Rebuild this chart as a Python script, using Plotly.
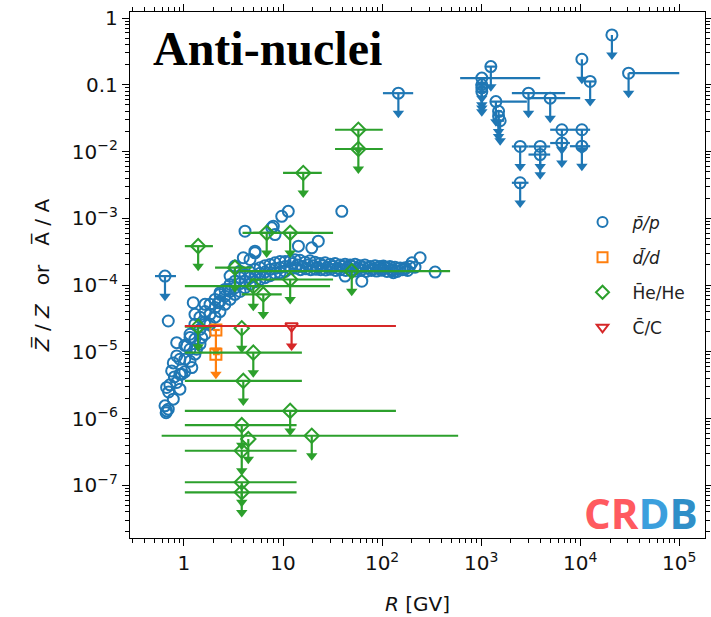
import numpy as np
import plotly.graph_objects as go

# ---------------- data ----------------
# p-bar / p measurements: rigidity [GV], ratio
pbar_R = [0.643, 0.694, 0.668, 0.66, 0.78, 0.668, 0.70, 0.844, 0.72, 0.751, 0.80, 0.948, 1.20, 0.844, 0.78,
          1.065, 1.34, 1.15, 1.51, 1.63, 1.24, 1.63, 1.29, 2.22, 2.31, 2.80, 2.92, 3.68, 4.64, 5.21, 0.694,
          0.844, 4.13, 7.98, 9.70, 11.3, 5.21, 3.97, 3.27, 22.7, 19.5, 14.3, 8.30, 7.69, 39.2, 242, 200, 171,
          130, 62.4, 343, 103, 42.3,
          0.91, 0.91, 0.91, 1.02, 1.02, 1.02, 1.15, 1.15, 1.15, 1.29, 1.29, 1.29, 1.45, 1.45, 1.45,
          1.63, 1.63, 1.63, 1.83, 1.83, 1.83, 2.06, 2.06, 2.06, 2.31, 2.31, 2.31, 2.59, 2.59, 2.59,
          2.92, 2.92, 2.92, 3.27, 3.27, 3.27, 3.68, 3.68, 3.68, 4.13, 4.13, 4.13, 4.64, 4.64, 4.64,
          5.21, 5.21, 5.21, 5.86, 5.86, 5.86, 6.58, 6.58, 6.58, 7.39, 7.39, 7.39, 8.3, 8.3, 8.3,
          9.33, 9.33, 9.33, 10.5, 10.5, 10.5,
          11.8, 12.5, 13.2, 14.0, 14.8, 15.7, 16.7, 17.7, 18.7, 20.0, 21.0, 22.3, 23.6, 25.0, 26.6, 28.0,
          29.8, 31.6, 33.5, 35.5, 37.6, 40.0, 42.3, 45.0, 47.5, 50.0, 53.4, 57.0, 60.0, 64.0, 67.0, 72.0,
          76.0, 81.0, 85.0, 90.0, 95.0, 101, 107, 113, 120, 127, 135, 143, 152, 161, 171, 181, 190, 215,
          12.0, 13.5, 15.0, 17.0, 19.0, 21.5, 24.0, 27.0, 30.0, 34.0, 38.0, 43.0, 48.0, 54.0, 61.0, 69.0,
          78.0, 88.0, 99.0, 112, 126, 142, 160, 180]
pbar_ratio = [1.55e-6, 1.38e-6, 1.30e-6, 1.22e-6, 1.95e-6, 2.92e-6, 2.5e-6, 3.47e-6, 3.2e-6, 5.16e-6, 4.2e-6,
              4.61e-6, 5.8e-6, 8.65e-6, 6.8e-6, 1.22e-5, 1.09e-5, 1.63e-5, 1.63e-5, 2.58e-5, 5.43e-5, 5.13e-5,
              3.64e-5, 5.43e-5, 7.67e-5, 8.6e-5, 1.36e-4, 1.61e-4, 2.41e-4, 3.04e-4, 2.89e-5, 1.37e-5, 6.4e-4,
              7.6e-4, 1.07e-3, 1.27e-3, 3.21e-4, 2.56e-4, 1.92e-4, 4.53e-4, 3.61e-4, 3.82e-4, 5.70e-4, 7.19e-4,
              1.27e-3, 2.56e-4, 2.15e-4, 1.82e-4, 1.53e-4, 1.14e-4, 1.56e-4, 1.92e-4, 1.36e-4,
              7.72e-6, 4.61e-6, 2.75e-6, 1.25e-5, 7.72e-6, 5.0e-6, 1.83e-5, 1.09e-5, 7.2e-6, 2.58e-5, 1.55e-5,
              9.2e-6, 3.3e-5, 2.17e-5, 1.3e-5, 4.0e-5, 2.8e-5, 1.83e-5, 5.13e-5, 3.64e-5, 2.58e-5, 6.09e-5,
              4.6e-5, 3.3e-5, 7.23e-5, 5.7e-5, 4.0e-5, 8.6e-5, 6.8e-5, 5.13e-5, 1.02e-4, 8.0e-5, 6.09e-5,
              1.14e-4, 9.1e-5, 7.23e-5, 1.29e-4, 1.05e-4, 8.0e-5, 1.44e-4, 1.14e-4, 9.1e-5, 1.56e-4, 1.29e-4,
              1.02e-4, 1.71e-4, 1.38e-4, 1.12e-4, 1.82e-4, 1.5e-4, 1.21e-4, 1.95e-4, 1.56e-4, 1.29e-4, 2.03e-4,
              1.71e-4, 1.38e-4, 2.15e-4, 1.77e-4, 1.5e-4, 2.25e-4, 1.82e-4, 1.53e-4, 2.25e-4, 1.9e-4, 1.6e-4,
              2.3e-4, 2.1e-4, 2.4e-4, 2.0e-4, 2.35e-4, 1.9e-4, 2.2e-4, 2.0e-4, 2.3e-4, 1.95e-4, 2.2e-4, 1.85e-4,
              2.1e-4, 1.95e-4, 2.15e-4, 1.85e-4, 2.05e-4, 1.9e-4, 2.1e-4, 1.8e-4, 2.0e-4, 1.9e-4, 2.05e-4,
              1.85e-4, 2.0e-4, 1.9e-4, 2.05e-4, 1.8e-4, 1.95e-4, 1.85e-4, 2.0e-4, 1.8e-4, 1.9e-4, 1.75e-4,
              1.95e-4, 1.8e-4, 1.9e-4, 1.75e-4, 1.85e-4, 1.8e-4, 1.9e-4, 1.7e-4, 1.85e-4, 1.75e-4, 1.8e-4,
              1.7e-4, 1.75e-4, 1.65e-4,
              1.9e-4, 1.85e-4, 1.75e-4, 1.8e-4, 1.7e-4, 1.75e-4, 1.7e-4, 1.72e-4, 1.7e-4, 1.68e-4, 1.72e-4,
              1.65e-4, 1.7e-4, 1.65e-4, 1.68e-4, 1.62e-4, 1.66e-4, 1.6e-4, 1.65e-4, 1.62e-4, 1.66e-4, 1.6e-4,
              1.63e-4, 1.6e-4]

# p-bar / p upper limits: value, rigidity bin edges
pbar_ul_R = [0.643, 146, 2.09e4, 1.04e4, 3.08e4, 1.26e4, 1253, 1016, 1016, 1016, 1016, 1409, 1500, 1500,
             1556, 3006, 4977, 2477, 3945, 6530, 1.04e4, 6530, 1.04e4, 3945, 2477]
pbar_ul_val = [1.36e-4, 0.0748, 0.557, 0.241, 0.149, 0.112, 0.187, 0.126, 0.100, 0.090, 0.079, 0.056,
               0.040, 0.0337, 0.0289, 0.0748, 0.063, 0.0119, 0.0119, 0.0212, 0.0212, 0.0134, 0.0120,
               0.0090, 0.0034]
pbar_ul_Rlo = [0.51, 102, 2.09e4, 1.04e4, 3.08e4, 1.1e4, 1120, 614, 880, 900, 900, 1253, 1420, 1420,
               1440, 2043, 3006, 2043, 3006, 4977, 7870, 4977, 7870, 3006, 2043]
pbar_ul_Rhi = [0.83, 206, 2.09e4, 1.04e4, 1.0e5, 1.45e4, 1410, 3945, 1160, 1140, 1140, 2896, 1620, 1620,
               1700, 7050, 1.0e4, 3006, 4977, 7870, 1.26e4, 7870, 1.26e4, 4977, 3006]

# d-bar / d upper limits
dbar_ul_R = [2.1, 2.1]
dbar_ul_val = [2.12e-5, 9.2e-6]
dbar_ul_Rlo = [1.96, 1.96]
dbar_ul_Rhi = [2.3, 2.3]

# He-bar / He upper limits
he_ul_R = [1.39, 6.84, 11.8, 3.27, 5.01, 6.32, 11.8, 49.4, 1.39, 3.83, 5.01, 3.97, 11.8, 3.83, 19.5,
           4.46, 3.83, 3.83, 3.83, 57.6, 57.6, 16.0]
he_ul_val = [3.82e-4, 6.05e-4, 6.05e-4, 1.82e-4, 9.6e-5, 7.23e-5, 1.21e-4, 1.61e-4, 2.38e-5, 2.25e-5,
             9.7e-6, 3.66e-6, 1.30e-6, 7.96e-7, 5.52e-7, 4.92e-7, 3.29e-7, 1.11e-7, 7.85e-8, 0.0212,
             0.0109, 4.77e-3]
he_ul_Rlo = [1.02, 3.9, 5.0, 2.06, 1.02, 3.83, 4.64, 3.68, 1.02, 3.83, 1.02, 1.02, 1.02, 1.02, 0.595,
             4.46, 1.02, 1.02, 1.02, 33.5, 33.5, 10.0]
he_ul_Rhi = [1.96, 20.0, 32.0, 4.83, 29.8, 9.7, 32.0, 486, 2.06, 3.83, 15.5, 15.5, 138, 13.7, 586,
             4.46, 13.7, 13.7, 13.7, 101.6, 101.6, 24.6]

# C-bar / C upper limit
cbar_ul_R = [12.2]
cbar_ul_val = [2.43e-5]
cbar_ul_Rlo = [1.02]
cbar_ul_Rhi = [138]

x_ticks = [1, 10, 1e2, 1e3, 1e4, 1e5]
x_ticktext = ["1", "10", "10<sup>2</sup>", "10<sup>3</sup>", "10<sup>4</sup>", "10<sup>5</sup>"]
y_ticks = [1e-7, 1e-6, 1e-5, 1e-4, 1e-3, 1e-2, 0.1, 1]
y_ticktext = ["10<sup>\u22127</sup>", "10<sup>\u22126</sup>", "10<sup>\u22125</sup>", "10<sup>\u22124</sup>",
              "10<sup>\u22123</sup>", "10<sup>\u22122</sup>", "0.1", "1"]

C_P, C_D, C_HE, C_C = "#1f77b4", "#ff7f0e", "#2ca02c", "#d62728"
ARROW = 0.5  # arrow tip factor for upper limits

fig = go.Figure()


def add_ul(R, val, Rlo, Rhi, color, symbol):
    R = np.array(R, float)
    v = np.array(val, float)
    ep = np.array(Rhi, float) - R
    em = R - np.array(Rlo, float)
    fig.add_trace(go.Scatter(
        x=R, y=v, mode="markers",
        marker=dict(symbol=symbol + "-open", size=11, color=color, line=dict(width=2, color=color)),
        error_x=dict(type="data", symmetric=False, array=ep, arrayminus=em, color=color,
                     thickness=2.2, width=0),
        error_y=dict(type="data", symmetric=False, array=np.zeros_like(v), arrayminus=v * (1 - ARROW),
                     color=color, thickness=2.2, width=0),
        showlegend=False, hoverinfo="skip"))
    fig.add_trace(go.Scatter(
        x=R, y=v * ARROW, mode="markers",
        marker=dict(symbol="triangle-down", size=10, color=color, line=dict(width=0)),
        showlegend=False, hoverinfo="skip"))


# p-bar/p measurements
fig.add_trace(go.Scatter(
    x=pbar_R, y=pbar_ratio, mode="markers",
    marker=dict(symbol="circle-open", size=11, color=C_P, line=dict(width=2, color=C_P)),
    showlegend=False, hoverinfo="skip"))
add_ul(pbar_ul_R, pbar_ul_val, pbar_ul_Rlo, pbar_ul_Rhi, C_P, "circle")
add_ul(dbar_ul_R, dbar_ul_val, dbar_ul_Rlo, dbar_ul_Rhi, C_D, "square")
add_ul(he_ul_R, he_ul_val, he_ul_Rlo, he_ul_Rhi, C_HE, "diamond")
add_ul(cbar_ul_R, cbar_ul_val, cbar_ul_Rlo, cbar_ul_Rhi, C_C, "triangle-down")

# legend entries
leg = [("<i>p\u0304/p</i>", C_P, "circle-open"),
       ("<i>d\u0304/d</i>", C_D, "square-open"),
       ("H\u0304e/He", C_HE, "diamond-open"),
       ("C\u0304/C", C_C, "triangle-down-open")]
for i, (name, col, sym) in enumerate(leg):
    fig.add_trace(go.Scatter(
        x=[None], y=[None], mode="markers", name=name, legendgroup=f"g{i}",
        marker=dict(symbol=sym, size=10, color=col, line=dict(width=2, color=col))))

minor_x = [m * 10 ** e for e in range(-1, 6) for m in range(2, 10)]
minor_y = [m * 10 ** e for e in range(-8, 1) for m in range(2, 10)]

axis_common = dict(showgrid=False, zeroline=False, showline=True, linecolor="black", linewidth=1.3,
                   ticks="outside", ticklen=7, tickwidth=1.3, tickcolor="black", mirror="ticks",
                   automargin=False,
                   tickfont=dict(family="DejaVu Sans", size=20, color="#111"))

fig.update_xaxes(type="log", range=[-0.545, 5.26], tickvals=x_ticks, ticktext=x_ticktext,
                 minor=dict(tickvals=minor_x, ticks="outside", ticklen=4, tickwidth=1, tickcolor="black"),
                 title=dict(text="<i>R</i> [GV]", font=dict(family="DejaVu Sans", size=20, color="#111"),
                            standoff=22),
                 **axis_common)
fig.update_yaxes(type="log", range=[-7.79, 0.09], tickvals=y_ticks, ticktext=y_ticktext,
                 minor=dict(tickvals=minor_y, ticks="outside", ticklen=4, tickwidth=1, tickcolor="black"),
                 title=dict(text="<i>Z\u0305</i> / <i>Z</i>   or   A\u0305 / A",
                            font=dict(family="DejaVu Sans", size=20, color="#111"), standoff=16),
                 **axis_common)

fig.add_annotation(text="<b>Anti-nuclei</b>", xref="paper", yref="paper", x=0.036, y=0.93,
                   xanchor="left", yanchor="middle", showarrow=False,
                   font=dict(family="Liberation Serif", size=48, color="black"))
fig.add_annotation(
    text="<b><span style='color:#ff5a5f'>CR</span><span style='color:#3b9fdd'>D</span>"
         "<span style='color:#2f8fc8'>B</span></b>",
    xref="paper", yref="paper", x=0.991, y=0.049, xanchor="right", yanchor="middle", showarrow=False,
    font=dict(family="Open Sans", size=42))

fig.update_layout(
    width=711, height=617,
    margin=dict(l=130, r=6, t=12, b=79),
    paper_bgcolor="white", plot_bgcolor="white",
    legend=dict(x=0.7696, y=0.634, xanchor="left", yanchor="top", bgcolor="rgba(0,0,0,0)",
                font=dict(family="DejaVu Sans", size=17, color="#222"),
                traceorder="grouped", tracegroupgap=10, itemwidth=50),
)

fig.write_html("out.html")
